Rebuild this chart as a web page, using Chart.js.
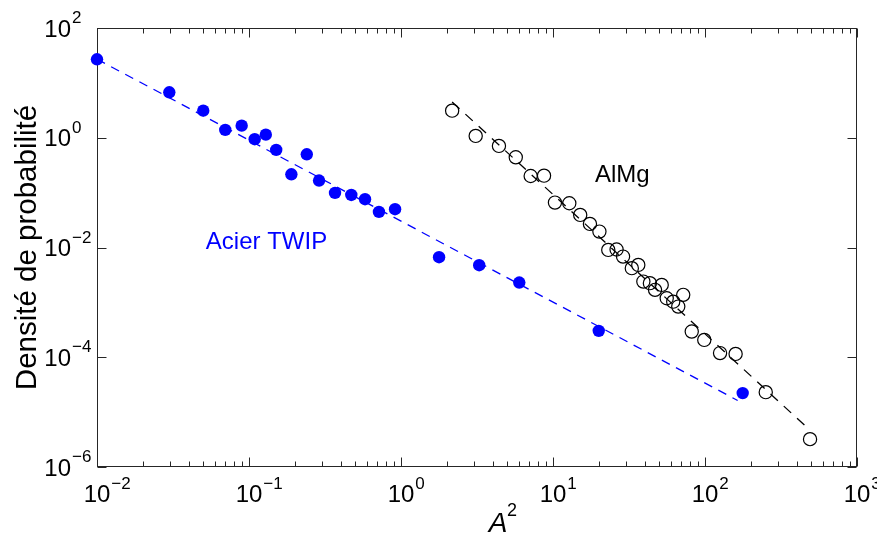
<!DOCTYPE html>
<html><head><meta charset="utf-8">
<script src="https://cdn.jsdelivr.net/npm/chart.js@4.4.1/dist/chart.umd.min.js"></script>
<style>html,body{margin:0;padding:0;background:#fff;} canvas{display:block;}</style>
</head><body>
<canvas id="c" width="877" height="537"></canvas>
<script>
// ---- data ----
const twipX = [0.01, 0.0299, 0.050, 0.0698, 0.0895, 0.109, 0.129, 0.151, 0.190, 0.240, 0.289, 0.368, 0.471, 0.580, 0.716, 0.914, 1.78, 3.27, 6.00, 20.0, 177];
const twipY = [26.9, 6.74, 3.12, 1.39, 1.66, 0.94, 1.14, 0.60, 0.216, 0.50, 0.166, 0.0989, 0.0908, 0.0759, 0.0445, 0.0499, 0.00665, 0.00476, 0.0023, 0.000303, 2.22e-5];
const twipFitX = [0.01, 164];
const twipFitY = [27.0, 1.63e-5];

const almgX = [2.17, 3.10, 4.41, 5.69, 7.13, 8.73, 10.3, 12.8, 15.1, 17.5, 20.2, 23.1, 26.2, 28.9, 33.0, 36.4, 39.3, 43.4, 46.9, 51.9, 56.0, 61.8, 66.7, 71.9, 81.8, 98.9, 125.6, 159, 251, 491];
const almgY = [3.12, 1.08, 0.71, 0.44, 0.201, 0.204, 0.0658, 0.0641, 0.0393, 0.0269, 0.0195, 0.00904, 0.0092, 0.00683, 0.0042, 0.00482, 0.00239, 0.00224, 0.00169, 0.00208, 0.00119, 0.00103, 0.000838, 0.00137, 0.000294, 0.000207, 0.000119, 0.000115, 2.31e-5, 3.22e-6];
const almgFitX = [2.17, 491];
const almgFitY = [4.49, 4.68e-6];

const xTickExponents = [-2, -1, 0, 1, 2, 3];
const yTickExponents = [-6, -4, -2, 0, 2];
const xTitleBase = 'A';
const xTitleExp = '2';
const yTitle = 'Densité de probabilité';
const labelTwip = 'Acier TWIP';
const labelAlmg = 'AlMg';
const labelTwipAt = [0.052, 0.0093];
const labelAlmgAt = [18.9, 0.157];

// ---- rendering ----
function pts(xs, ys) { return xs.map((x, i) => ({ x: x, y: ys[i] })); }
const FONT = '"Liberation Sans", Arial, Helvetica, sans-serif';
const AXIS = '#262626';
function expText(e) { return (e < 0 ? '\u2212' : '') + Math.abs(e); }

const decor = {
  id: 'decor',
  beforeDatasetsDraw(chart) {
    const ctx = chart.ctx, a = chart.chartArea, xs = chart.scales.x, ys = chart.scales.y;
    const L = Math.round(a.left) + 0.5, R = Math.round(a.right) - 0.5;
    const T = Math.round(a.top) + 0.5, B = Math.round(a.bottom) - 0.5;
    ctx.save();
    ctx.strokeStyle = AXIS; ctx.lineWidth = 1;
    ctx.strokeRect(L, T, R - L, B - T);
    ctx.beginPath();
    const minE = xTickExponents[0], maxE = xTickExponents[xTickExponents.length - 1];
    for (let e = minE; e <= maxE; e++) {
      const px = Math.round(xs.getPixelForValue(Math.pow(10, e))) + 0.5;
      ctx.moveTo(px, B); ctx.lineTo(px, B - 9);
      ctx.moveTo(px, T); ctx.lineTo(px, T + 9);
      if (e < maxE) {
        for (let m = 2; m <= 9; m++) {
          const q = Math.round(xs.getPixelForValue(m * Math.pow(10, e))) + 0.5;
          ctx.moveTo(q, B); ctx.lineTo(q, B - 5);
          ctx.moveTo(q, T); ctx.lineTo(q, T + 5);
        }
      }
    }
    yTickExponents.forEach(e => {
      const py = Math.round(ys.getPixelForValue(Math.pow(10, e))) + 0.5;
      ctx.moveTo(L, py); ctx.lineTo(L + 9, py);
      ctx.moveTo(R, py); ctx.lineTo(R - 9, py);
    });
    ctx.stroke();
    ctx.restore();
  },
  afterDraw(chart) {
    const ctx = chart.ctx, a = chart.chartArea, xs = chart.scales.x, ys = chart.scales.y;
    ctx.save();
    ctx.fillStyle = '#000';
    ctx.textBaseline = 'alphabetic';
    // x tick labels
    xTickExponents.forEach(e => {
      const px = xs.getPixelForValue(Math.pow(10, e));
      ctx.font = '24px ' + FONT; ctx.textAlign = 'center';
      ctx.fillText('10', px, a.bottom + 35);
      const w = ctx.measureText('10').width;
      ctx.font = '17px ' + FONT; ctx.textAlign = 'left';
      ctx.fillText(expText(e), px + w / 2 + 1, a.bottom + 22);
    });
    // y tick labels
    yTickExponents.forEach(e => {
      const py = ys.getPixelForValue(Math.pow(10, e));
      ctx.font = '24px ' + FONT; ctx.textAlign = 'right';
      ctx.fillText('10', 71, py + 8.5);
      ctx.font = '17px ' + FONT; ctx.textAlign = 'left';
      ctx.fillText(expText(e), 72, py - 5);
    });
    // x title
    ctx.font = 'italic 28px ' + FONT; ctx.textAlign = 'center';
    const cx = 498;
    ctx.fillText(xTitleBase, cx, a.bottom + 65);
    ctx.font = '18px ' + FONT; ctx.textAlign = 'left';
    ctx.fillText(xTitleExp, cx + 9, a.bottom + 49);
    // y title
    ctx.save();
    ctx.translate(36, (a.top + a.bottom) / 2);
    ctx.rotate(-Math.PI / 2);
    ctx.font = '29.5px ' + FONT; ctx.textAlign = 'center';
    ctx.fillText(yTitle, 0, 0);
    ctx.restore();
    // in-plot labels
    ctx.font = '24px ' + FONT; ctx.textAlign = 'left';
    ctx.fillStyle = '#0000ff';
    ctx.fillText(labelTwip, xs.getPixelForValue(labelTwipAt[0]), ys.getPixelForValue(labelTwipAt[1]));
    ctx.fillStyle = '#000';
    ctx.fillText(labelAlmg, xs.getPixelForValue(labelAlmgAt[0]), ys.getPixelForValue(labelAlmgAt[1]));
    ctx.restore();
  }
};

new Chart(document.getElementById('c'), {
  type: 'scatter',
  data: {
    datasets: [
      { data: pts(twipFitX, twipFitY), showLine: true, borderColor: '#0000ff', borderWidth: 1.3,
        borderDash: [9, 7], pointRadius: 0, fill: false, clip: false, order: 4 },
      { data: pts(almgFitX, almgFitY), showLine: true, borderColor: '#000000', borderWidth: 1.3,
        borderDash: [10, 8], pointRadius: 0, fill: false, clip: false, order: 3 },
      { data: pts(twipX, twipY), showLine: false, pointRadius: 6.2, pointBackgroundColor: '#0000ff',
        pointBorderColor: '#0000ff', pointBorderWidth: 0, clip: false, order: 2 },
      { data: pts(almgX, almgY), showLine: false, pointRadius: 6.6, pointBackgroundColor: 'rgba(0,0,0,0)',
        pointBorderColor: '#000000', pointBorderWidth: 1.2, clip: false, order: 1 }
    ]
  },
  options: {
    responsive: false,
    animation: false,
    events: [],
    layout: { padding: { left: 97, right: 20, top: 28, bottom: 70 } },
    plugins: { legend: { display: false }, tooltip: { enabled: false } },
    scales: {
      x: { type: 'logarithmic', min: 0.01, max: 1000, display: false },
      y: { type: 'logarithmic', min: 1e-6, max: 100, display: false }
    }
  },
  plugins: [decor]
});
</script>
</body></html>
